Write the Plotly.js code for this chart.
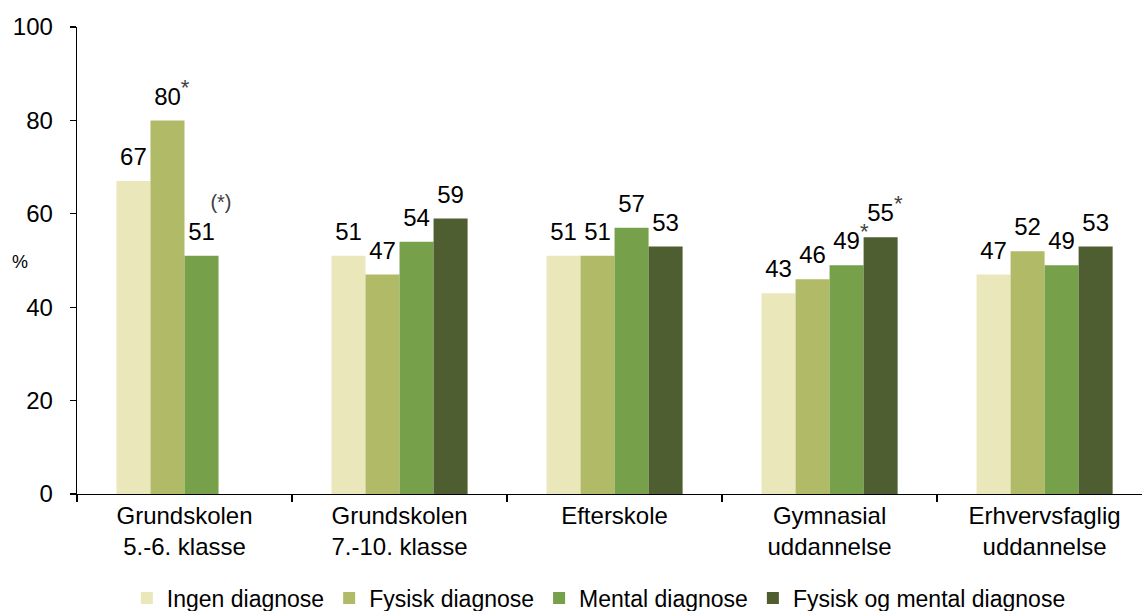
<!DOCTYPE html>
<html>
<head>
<meta charset="utf-8">
<script src="https://cdn.plot.ly/plotly-3.0.1.min.js"></script>
<style>html,body{margin:0;padding:0;background:#fff;}#chart{width:1142px;height:611px;}</style>
</head>
<body>
<div id="chart"></div>
<script>
const categories = ["Grundskolen<br>5.-6. klasse", "Grundskolen<br>7.-10. klasse", "Efterskole", "Gymnasial<br>uddannelse", "Erhvervsfaglig<br>uddannelse"];
const seriesNames = ["Ingen diagnose", "Fysisk diagnose", "Mental diagnose", "Fysisk og mental diagnose"];
const ingen  = [67, 51, 51, 43, 47];
const fysisk = [80, 47, 51, 46, 52];
const mental = [51, 54, 57, 49, 49];
const begge  = [null, 59, 53, 55, 53];
const notesIngen  = ["", "", "", "", ""];
const notesFysisk = ["*", "", "", "", ""];
const notesMental = ["(*)", "", "", "*", ""];
const notesBegge  = ["", "", "", "*", ""];
const yTicks = [0, 20, 40, 60, 80, 100];

const colors = ["#EAE8BB", "#B1BA67", "#77A04A", "#4F5E31"];
const allValues = [ingen, fysisk, mental, begge];
const allNotes = [notesIngen, notesFysisk, notesMental, notesBegge];
const FONT = "Liberation Sans, Arial, sans-serif";
const BARGAP = 0.367;

function label(v, note) {
  if (v === null) return " ";
  if (note === "*") {
    return "<span style='color:rgba(0,0,0,0)'><sup><span style='font-size:22px'>*</span></sup></span>" + v +
           "<sup><span style='font-size:22px;color:#404040'>*</span></sup>";
  }
  if (note === "(*)") {
    return "<span style='font-size:20px;color:#404040'>&nbsp;&nbsp;&nbsp;&nbsp;&nbsp;&nbsp;&nbsp;(*)</span><br>" + v;
  }
  return String(v);
}

const traces = [];
allValues.forEach((vals, i) => {
  traces.push({
    type: "bar", name: seriesNames[i], x: categories, y: vals,
    marker: {color: colors[i], line: {width: 0}},
    offsetgroup: String(i), hoverinfo: "x+y"
  });
});
allValues.forEach((vals, i) => {
  traces.push({
    type: "scatter", mode: "markers+text", x: categories, y: vals,
    text: vals.map((v, k) => label(v, allNotes[i][k])),
    textposition: "top center",
    textfont: {family: FONT, size: 24, color: "#000"},
    marker: {size: 14, opacity: 0},
    offsetgroup: String(i), orientation: "v",
    showlegend: false, hoverinfo: "skip", cliponaxis: false
  });
});

const layout = {
  width: 1142, height: 611,
  margin: {l: 77, r: 0, t: 27, b: 117, pad: 0, autoexpand: false},
  paper_bgcolor: "#fff", plot_bgcolor: "#fff",
  font: {family: FONT, size: 24, color: "#000"},
  barmode: "group", bargap: BARGAP, bargroupgap: 0,
  scattermode: "group", scattergap: BARGAP,
  showlegend: true,
  legend: {orientation: "h", x: 0.49, xanchor: "center", y: -0.2227, yanchor: "middle",
           font: {family: FONT, size: 23, color: "#000"}, bgcolor: "rgba(0,0,0,0)",
           traceorder: "normal"},
  xaxis: {
    type: "category", range: [-0.5, 4.453], showline: true, linecolor: "#000", linewidth: 1.3,
    ticks: "outside", tickson: "boundaries", ticklen: 7, tickcolor: "#000", tickwidth: 1.3,
    tickfont: {family: FONT, size: 24, color: "#000"}, showgrid: false, zeroline: false,
    fixedrange: true
  },
  yaxis: {
    range: [0, 100], tickvals: yTicks, ticktext: yTicks.map(String),
    showline: true, linecolor: "#000", linewidth: 1.3,
    ticks: "outside", ticklen: 6, tickcolor: "#000", tickwidth: 1.3, ticklabelstandoff: 12,
    tickfont: {family: FONT, size: 24, color: "#000"}, showgrid: false, zeroline: false,
    fixedrange: true
  },
  annotations: [{
    text: "%", xref: "paper", yref: "paper", x: -0.0535, y: 0.497,
    xanchor: "center", yanchor: "middle", showarrow: false,
    font: {family: FONT, size: 18, color: "#000"}
  }]
};

Plotly.newPlot("chart", traces, layout, {displayModeBar: false, staticPlot: true});
</script>
</body>
</html>
